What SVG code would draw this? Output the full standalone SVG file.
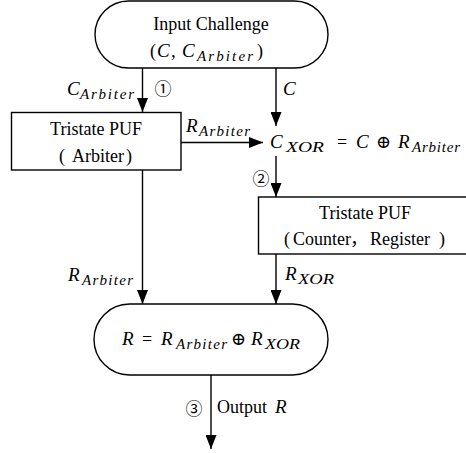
<svg xmlns="http://www.w3.org/2000/svg" width="466" height="453" viewBox="0 0 466 453">
  <defs>
    <marker id="arrow" markerUnits="userSpaceOnUse" markerWidth="14" markerHeight="11" refX="14" refY="5.5" orient="auto">
      <path d="M0,0 L14,5.5 L0,11 z" fill="#000"/>
    </marker>
    <style>
      .shape { fill: #fff; stroke: #000; stroke-width: 1.4; }
      .wire { fill: none; stroke: #000; stroke-width: 1.4; marker-end: url(#arrow); }
    </style>
  </defs>

  <rect width="466" height="453" fill="#fff"/>

  <!-- connectors -->
  <g id="connectors">
    <line class="wire" x1="142.5" y1="68" x2="142.5" y2="112"/>
    <line class="wire" x1="276" y1="68" x2="276" y2="126"/>
    <line class="wire" x1="181" y1="142.5" x2="263" y2="142.5"/>
    <line class="wire" x1="276" y1="156" x2="276" y2="197"/>
    <line class="wire" x1="142.5" y1="170" x2="142.5" y2="304"/>
    <line class="wire" x1="276" y1="254" x2="276" y2="304"/>
    <line class="wire" x1="211" y1="375" x2="211" y2="449"/>
  </g>

  <!-- connector labels -->
  <g id="labels" fill="#000">
    <text font-family="Liberation Serif" font-style="italic" font-size="19" x="67" y="95">C</text>
    <text font-family="Liberation Serif" font-style="italic" font-size="15" x="80" y="98.5" textLength="54" lengthAdjust="spacing">Arbiter</text>
    <text font-family="Noto Sans CJK SC" font-size="17" text-anchor="middle" x="163" y="95">①</text>
    <text font-family="Liberation Serif" font-style="italic" font-size="19" x="283" y="95">C</text>
    <text font-family="Liberation Serif" font-style="italic" font-size="19" x="186" y="132">R</text>
    <text font-family="Liberation Serif" font-style="italic" font-size="15" x="199" y="135.5" textLength="51" lengthAdjust="spacing">Arbiter</text>
    <text font-family="Noto Sans CJK SC" font-size="17" text-anchor="middle" x="261" y="185">②</text>
    <text font-family="Liberation Serif" font-style="italic" font-size="19" x="68" y="281">R</text>
    <text font-family="Liberation Serif" font-style="italic" font-size="15" x="82" y="284.5" textLength="51" lengthAdjust="spacing">Arbiter</text>
    <text font-family="Liberation Serif" font-style="italic" font-size="19" x="285" y="280">R</text>
    <text font-family="Liberation Serif" font-style="italic" font-size="15" x="298" y="283.5" textLength="36" lengthAdjust="spacingAndGlyphs">XOR</text>
    <text font-family="Noto Sans CJK SC" font-size="17" text-anchor="middle" x="194" y="415">③</text>
    <text font-family="Liberation Serif" font-size="18" x="217" y="413">Output</text>
    <text font-family="Liberation Serif" font-style="italic" font-size="19" x="275" y="413">R</text>

    <!-- XOR of challenge and arbiter response -->
    <text font-family="Liberation Serif" font-style="italic" font-size="19" x="270" y="148">C</text>
    <text font-family="Liberation Serif" font-style="italic" font-size="15" x="286" y="151.5" textLength="38" lengthAdjust="spacingAndGlyphs">XOR</text>
    <text font-family="Liberation Serif" font-size="18" x="337" y="148">=</text>
    <text font-family="Liberation Serif" font-style="italic" font-size="19" x="356" y="148">C</text>
    <text font-family="DejaVu Serif" font-size="18" x="376" y="148">⊕</text>
    <text font-family="Liberation Serif" font-style="italic" font-size="19" x="398" y="148">R</text>
    <text font-family="Liberation Serif" font-style="italic" font-size="15" x="412" y="151.5" textLength="48" lengthAdjust="spacing">Arbiter</text>
  </g>

  <!-- input challenge terminal -->
  <g id="input" fill="#000">
    <rect class="shape" x="95" y="1" width="233" height="67" rx="33.5" ry="33.5"/>
    <text font-family="Liberation Serif" font-size="18" x="211" y="30" text-anchor="middle">Input Challenge</text>
    <text font-family="Liberation Serif" font-size="18" x="150" y="57">(</text>
    <text font-family="Liberation Serif" font-style="italic" font-size="19" x="157" y="57">C</text>
    <text font-family="Liberation Serif" font-style="italic" font-size="19" x="171" y="57">,</text>
    <text font-family="Liberation Serif" font-style="italic" font-size="19" x="182" y="57">C</text>
    <text font-family="Liberation Serif" font-style="italic" font-size="15" x="197" y="60.5" textLength="56" lengthAdjust="spacing">Arbiter</text>
    <text font-family="Liberation Serif" font-size="18" x="257" y="57">)</text>
  </g>

  <!-- arbiter PUF -->
  <g id="arbiter-puf" fill="#000">
    <rect class="shape" x="11.5" y="112.5" width="169.5" height="57.5"/>
    <text font-family="Liberation Serif" font-size="18" x="96" y="135" text-anchor="middle">Tristate PUF</text>
    <text font-family="Liberation Serif" font-size="18" x="59" y="162">(</text>
    <text font-family="Liberation Serif" font-size="18" x="72" y="162">Arbiter</text>
    <text font-family="Liberation Serif" font-size="18" x="126" y="162">)</text>
  </g>

  <!-- counter / register PUF -->
  <g id="counter-puf" fill="#000">
    <rect class="shape" x="258.5" y="197" width="210" height="57"/>
    <text font-family="Liberation Serif" font-size="18" x="365" y="219" text-anchor="middle">Tristate PUF</text>
    <text font-family="Liberation Serif" font-size="18" x="284" y="245">(</text>
    <text font-family="Liberation Serif" font-size="18" x="293" y="245">Counter</text>
    <text font-family="Noto Sans CJK SC" font-size="18" x="350" y="245">，</text>
    <text font-family="Liberation Serif" font-size="18" x="370" y="245">Register</text>
    <text font-family="Liberation Serif" font-size="18" x="439" y="245">)</text>
  </g>

  <!-- response terminal -->
  <g id="response" fill="#000">
    <rect class="shape" x="94" y="304" width="234" height="71" rx="35.5" ry="35.5"/>
    <text font-family="Liberation Serif" font-style="italic" font-size="19" x="122" y="345">R</text>
    <text font-family="Liberation Serif" font-size="18" x="142" y="345">=</text>
    <text font-family="Liberation Serif" font-style="italic" font-size="19" x="161" y="345">R</text>
    <text font-family="Liberation Serif" font-style="italic" font-size="15" x="176" y="348.5" textLength="51" lengthAdjust="spacing">Arbiter</text>
    <text font-family="DejaVu Serif" font-size="18" x="231" y="345">⊕</text>
    <text font-family="Liberation Serif" font-style="italic" font-size="19" x="251" y="345">R</text>
    <text font-family="Liberation Serif" font-style="italic" font-size="15" x="265" y="348.5" textLength="35" lengthAdjust="spacingAndGlyphs">XOR</text>
  </g>
</svg>
